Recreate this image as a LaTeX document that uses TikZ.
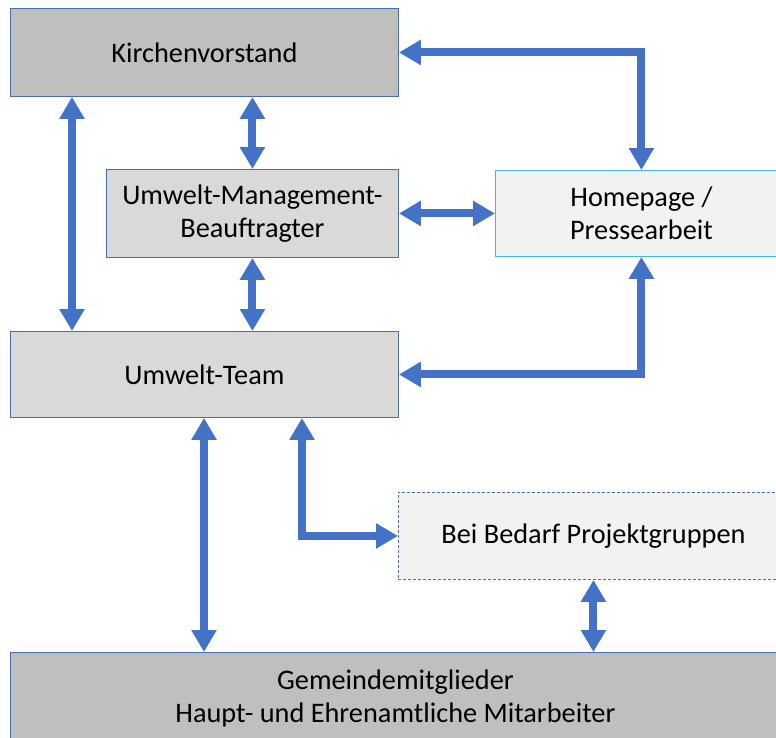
\documentclass[tikz,border=0pt]{standalone}
\usepackage{fontspec}
\setmainfont{Carlito}
\usetikzlibrary{arrows.meta}
\definecolor{arrowblue}{HTML}{4472C4}
\definecolor{boxline}{HTML}{4A6DB0}
\definecolor{lightline}{HTML}{45B5E3}
\definecolor{darkfill}{HTML}{BFBFBF}
\definecolor{midfill}{HTML}{D9D9D9}
\definecolor{lightfill}{HTML}{F2F2F2}
\begin{document}
\begin{tikzpicture}[x=1pt,y=-1pt,
  box/.style={draw=boxline, line width=0.9pt, anchor=north west, inner sep=0pt,
    font=\fontsize{28.3}{33.5}\selectfont, align=center, text=black},
  link/.style={draw=arrowblue, line width=8pt, line join=miter,
    {Triangle[width=24pt,length=22pt]}-{Triangle[width=24pt,length=22pt]}}]
\useasboundingbox (0,0) rectangle (776,737);
\clip (0,0) rectangle (776,737);
\node[box, fill=darkfill, minimum width=388pt, minimum height=88pt] (kv) at (10,8) {Kirchenvorstand};
\node[box, fill=midfill, minimum width=292pt, minimum height=88pt] (umb) at (106,169) {Umwelt-Management-\\Beauftragter};
\node[box, fill=lightfill, draw=lightline, minimum width=292pt, minimum height=86pt] (hp) at (495,170) {Homepage /\\Pressearbeit};
\node[box, fill=midfill, minimum width=388pt, minimum height=86pt] (ut) at (10,331) {Umwelt-Team};
\node[box, fill=lightfill, dash pattern=on 3pt off 2pt, minimum width=390pt, minimum height=87pt] (pg) at (398,492) {Bei Bedarf Projektgruppen};
\node[box, fill=darkfill, minimum width=770pt, minimum height=92pt] (gm) at (10,652) {Gemeindemitglieder\\Haupt- und Ehrenamtliche Mitarbeiter};
\draw[link] (72,0 |- kv.south) -- (72,0 |- ut.north);
\draw[link] (kv.south -| umb.north) -- (umb.north);
\draw[link] (umb.south) -- (umb.south |- ut.north);
\draw[link] (umb.east) -- (hp.west);
\draw[link] (kv.east) -| (hp.north);
\draw[link] (ut.east) -| (hp.south);
\draw[link] (204,0 |- ut.south) -- (204,0 |- gm.north);
\draw[link] (302,0 |- ut.south) |- (pg.west);
\draw[link] (pg.south) -- (pg.south |- gm.north);
\end{tikzpicture}
\end{document}
